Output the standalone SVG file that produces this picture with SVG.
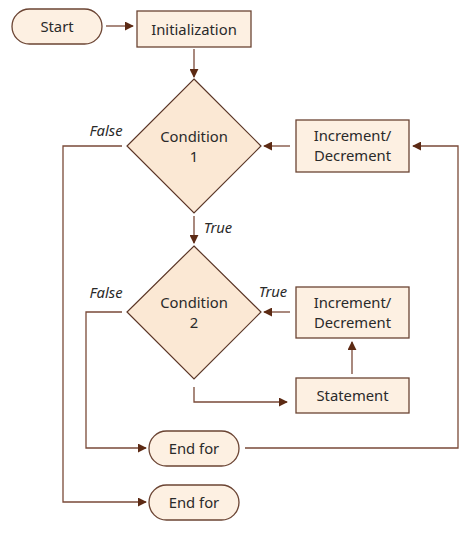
<svg xmlns="http://www.w3.org/2000/svg" width="474" height="539" viewBox="0 0 474 539">
<style>
.n{fill:#fdf0e2;stroke:#6b4433;stroke-width:1.3}
.d{fill:#fbe8d4;stroke:#5a3526;stroke-width:1.2}
.t{font-family:"Noto Sans","Open Sans",sans-serif;font-size:14.8px;fill:#2a2a2a;text-anchor:middle}
.l{font-family:"Noto Sans","Open Sans",sans-serif;font-size:14.8px;font-style:italic;fill:#2a2a2a;text-anchor:middle}
.c{fill:none;stroke:#7a4a38;stroke-width:1.3}
</style>
<defs>
<marker id="a" viewBox="0 0 10 10" refX="9" refY="5" markerWidth="9" markerHeight="9" markerUnits="userSpaceOnUse" orient="auto">
<path d="M0,0 L10,5 L0,10 Z" fill="#5c2a14"/>
</marker>
</defs>
<rect width="474" height="539" fill="#ffffff"/>
<g id="connectors">
<line class="c" x1="106" y1="26" x2="133" y2="26" marker-end="url(#a)"/>
<line class="c" x1="194" y1="49" x2="194" y2="77" marker-end="url(#a)"/>
<line class="c" x1="290" y1="146" x2="264" y2="146" marker-end="url(#a)"/>
<polyline class="c" points="245,448 458,448 458,146 413,146" marker-end="url(#a)"/>
<polyline class="c" points="122,146 63,146 63,502 146,502" marker-end="url(#a)"/>
<line class="c" x1="194" y1="216" x2="194" y2="243" marker-end="url(#a)"/>
<line class="c" x1="290" y1="312" x2="264" y2="312" marker-end="url(#a)"/>
<line class="c" x1="352" y1="374" x2="352" y2="342" marker-end="url(#a)"/>
<polyline class="c" points="194,387 194,402 287,402" marker-end="url(#a)"/>
<polyline class="c" points="122,312 86,312 86,448 146,448" marker-end="url(#a)"/>
<text class="l" x="106" y="136">False</text>
<text class="l" x="218" y="233">True</text>
<text class="l" x="106" y="298">False</text>
<text class="l" x="273" y="297">True</text>
</g>
<g id="start">
<rect class="n" x="12" y="9" width="90" height="35" rx="17.5"/>
<text class="t" x="57" y="31.5">Start</text>
</g>
<g id="init">
<rect class="n" x="137" y="11" width="114" height="36"/>
<text class="t" x="194" y="34.5">Initialization</text>
</g>
<g id="cond1">
<polygon class="d" points="194,79 261,146 194,213 127,146"/>
<text class="t" x="194" y="142">Condition</text>
<text class="t" x="194" y="162">1</text>
</g>
<g id="incdec1">
<rect class="n" x="296" y="120" width="113" height="52"/>
<text class="t" x="352.5" y="141">Increment/</text>
<text class="t" x="352.5" y="161">Decrement</text>
</g>
<g id="cond2">
<polygon class="d" points="194,246 261,312 194,379 127,312"/>
<text class="t" x="194" y="308">Condition</text>
<text class="t" x="194" y="328">2</text>
</g>
<g id="incdec2">
<rect class="n" x="296" y="287" width="113" height="51"/>
<text class="t" x="352.5" y="308">Increment/</text>
<text class="t" x="352.5" y="328">Decrement</text>
</g>
<g id="statement">
<rect class="n" x="296" y="378" width="113" height="35"/>
<text class="t" x="352.5" y="400.5">Statement</text>
</g>
<g id="endfor1">
<rect class="n" x="149" y="431" width="90" height="35" rx="17.5"/>
<text class="t" x="194" y="453.5">End for</text>
</g>
<g id="endfor2">
<rect class="n" x="149" y="485" width="90" height="35" rx="17.5"/>
<text class="t" x="194" y="507.5">End for</text>
</g>
</svg>
